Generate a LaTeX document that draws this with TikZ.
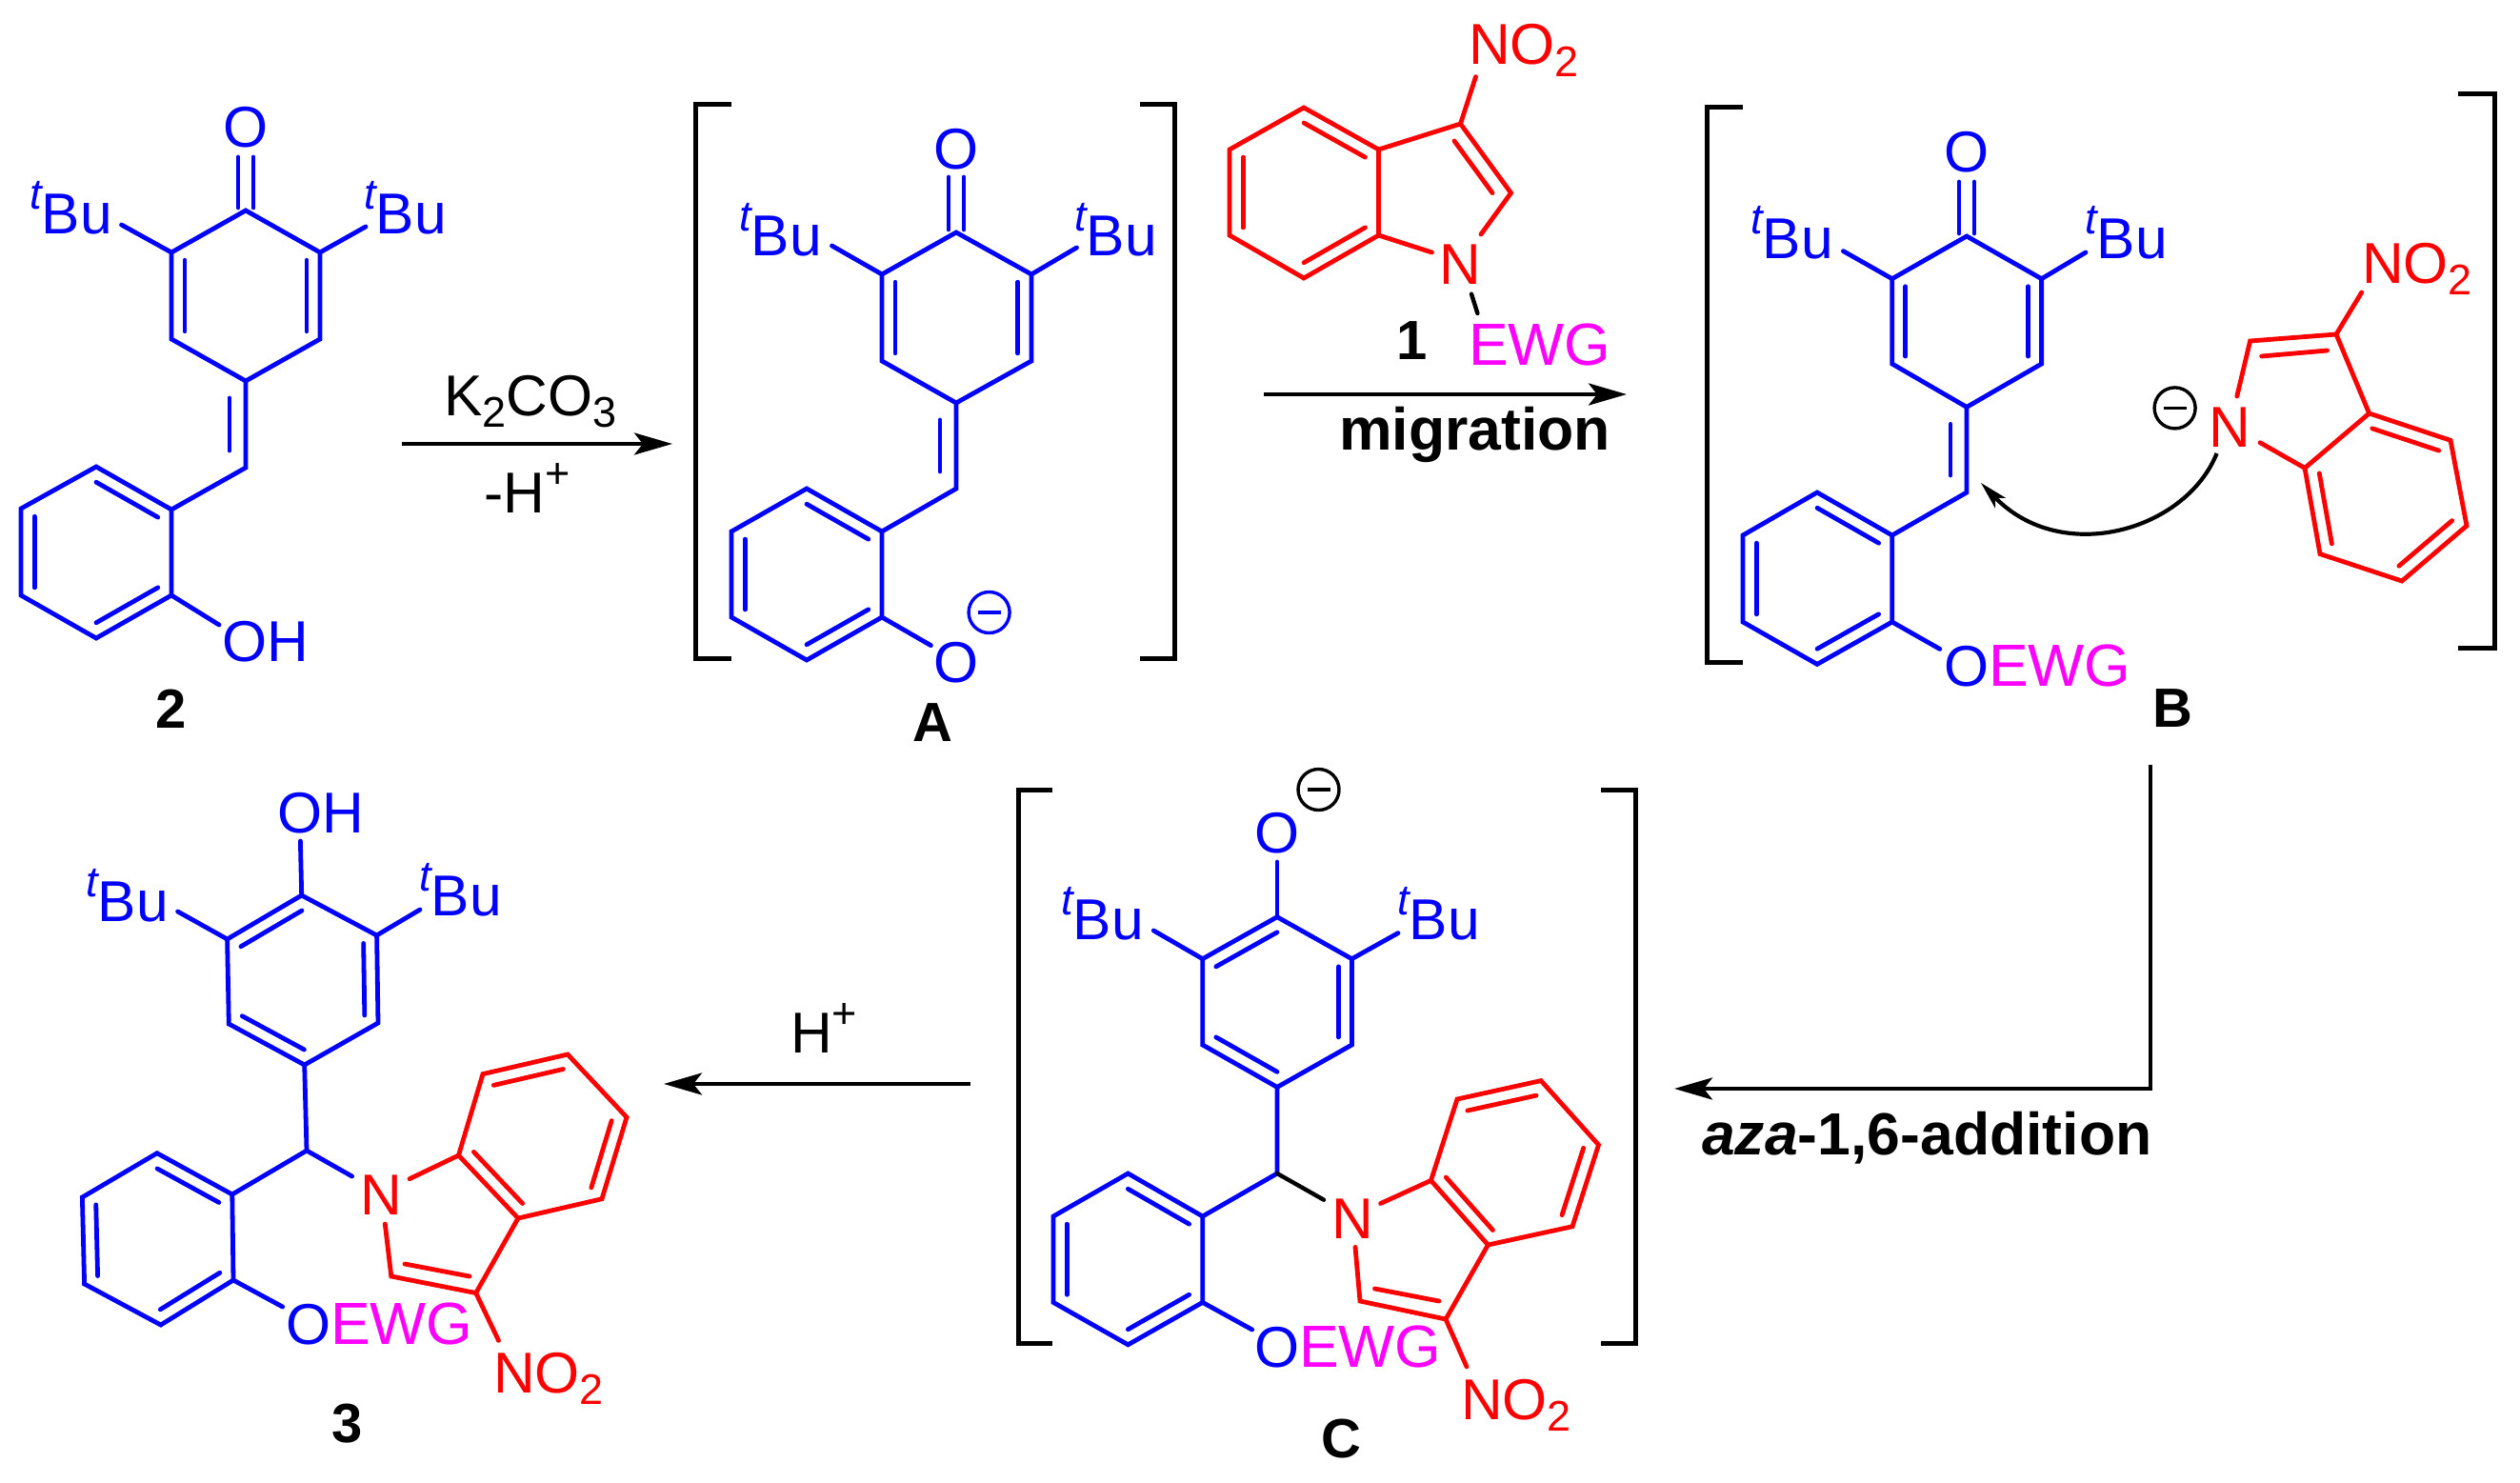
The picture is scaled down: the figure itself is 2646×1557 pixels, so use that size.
\documentclass[tikz,border=0pt]{standalone}
\usepackage{fontspec}
\setmainfont{Liberation Sans}
\usetikzlibrary{calc,arrows.meta}
\definecolor{ewgpink}{RGB}{255,0,255}
\definecolor{atomblue}{RGB}{0,0,255}
\definecolor{atomred}{RGB}{255,0,0}
\tikzset{
  bond/.style={line width=4.8pt,line cap=round,atomblue},
  rbond/.style={line width=4.8pt,line cap=round,atomred},
  kbond/.style={line width=4.4pt,line cap=round,black},
  bracket/.style={line width=5pt,black},
  rxn/.style={line width=4.4pt,-{Stealth[length=40pt,width=23pt,inset=9pt]}},
  curly/.style={line width=4.2pt,-{Stealth[length=29pt,width=15pt,inset=7pt]}},
  lab/.style={font=\fontsize{60.5}{60.5}\selectfont,inner sep=0pt,anchor=base west},
  atom/.style={lab,anchor=base},
  num/.style={font=\fontsize{58}{58}\selectfont\bfseries,inner sep=0pt,anchor=base},
  cond/.style={lab,font=\fontsize{62.5}{62.5}\selectfont\bfseries},
  chg/.style={circle,draw,line width=3.4pt,minimum size=43pt,inner sep=0pt,
    path picture={\draw[line width=3.4pt] ([xshift=-12pt]path picture bounding box.center) -- ([xshift=12pt]path picture bounding box.center);}}
}
\newcommand{\atoms}[2]{\foreach \n/\x/\y in {#2}{\coordinate (#1\n) at (\x,\y);}}
\newcommand{\inbond}[4][bond]{\draw[#1] ($(#2)!.18!(#4)$) -- ($(#3)!.18!(#4)$);}
\newcommand{\tBu}{\raisebox{.42em}{\fontsize{45}{45}\selectfont\itshape t}Bu}
\newcommand{\lowdg}[1]{\raisebox{-.2em}{\fontsize{45}{45}\selectfont #1}}
\newcommand{\updg}[1]{\raisebox{.42em}{\fontsize{45}{45}\selectfont #1}}
\newcommand{\nitro}{NO\lowdg{2}}
\newcommand{\ewg}{\textcolor{ewgpink}{\fontsize{62.5}{62.5}\selectfont EWG}}
% salicyl ring, all five structures
\newcommand{\aryl}[1]{
  \coordinate (#1ca) at ($(#1a1)!.5!(#1a4)$);
  \draw[bond] (#1a1) -- (#1a2) -- (#1a3) -- (#1a4) -- (#1a5) -- (#1a6) -- cycle;
  \inbond{#1a1}{#1a2}{#1ca} \inbond{#1a3}{#1a4}{#1ca} \inbond{#1a5}{#1a6}{#1ca}
  \draw[bond] (#1a6) -- (#1oa);
}
% quinone methide: 2, A, B
\newcommand{\quinone}[1]{
  \coordinate (#1cq) at ($(#1c1)!.5!(#1c4)$);
  \draw[bond] (#1c1) -- (#1c2) -- (#1c3) -- (#1c4) -- (#1c5) -- (#1c6) -- cycle;
  \inbond{#1c2}{#1c3}{#1cq} \inbond{#1c5}{#1c6}{#1cq}
  \draw[bond] ([xshift=-8pt,yshift=3pt]#1c1) -- ([xshift=-8pt]#1ot);
  \draw[bond] ([xshift=8pt,yshift=3pt]#1c1) -- ([xshift=8pt]#1ot);
  \draw[bond] (#1c2) -- (#1tr);
  \draw[bond] (#1c6) -- (#1tl);
  \draw[bond] (#1c4) -- (#1c7) -- (#1a1);
  \draw[bond] ([xshift=-17pt,yshift=-18pt]#1c4) -- ([xshift=-17pt,yshift=18pt]#1c7);
  \aryl{#1}
}
% phenol part: 3, C
\newcommand{\phenol}[1]{
  \coordinate (#1cp) at ($(#1p1)!.5!(#1p4)$);
  \draw[bond] (#1p1) -- (#1p2) -- (#1p3) -- (#1p4) -- (#1p5) -- (#1p6) -- cycle;
  \inbond{#1p1}{#1p6}{#1cp} \inbond{#1p2}{#1p3}{#1cp} \inbond{#1p4}{#1p5}{#1cp}
  \draw[bond] (#1p1) -- (#1ot);
  \draw[bond] (#1p2) -- (#1tr);
  \draw[bond] (#1p6) -- (#1tl);
  \draw[bond] (#1p4) -- (#1ch) -- (#1a1);
  \aryl{#1}
}
% 3-nitroindole, second argument lists the inner benzene bonds
\newcommand{\indole}[2]{
  \coordinate (#1cb) at ($(#1b1)!.5!(#1b4)$);
  \draw[rbond] (#1b1) -- (#1b2) -- (#1b3) -- (#1b4) -- (#1b5) -- (#1b6) -- cycle;
  \foreach \a/\b in {#2}{\inbond[rbond]{#1\a}{#1\b}{#1cb}}
  \draw[rbond] (#1ne) -- (#1k2) -- (#1k3) -- (#1b1);
  \draw[rbond] (#1k3) -- (#1nt);
  \draw[rbond] (#1ns) -- (#1b6);
  \draw[rbond] (#1i1) -- (#1i2);
}
\begin{document}
\begin{tikzpicture}[x=1pt,y=-1pt]
\useasboundingbox (0,0) rectangle (2646,1557);
% compound 2
\atoms{mT}{c1/258/221,c2/336/265,c3/336/356,c4/258/400,c5/180/356,c6/180/265,c7/258/491,
  a1/180/535,a2/101/490,a3/22/534,a4/22/625,a5/101/670,a6/180/625,
  ot/258/165,tl/127.5/236,tr/384/238,oa/230/656}
\quinone{mT}
\node[atom,text=atomblue] (mTo) at (258,154.5) {O};
\node[lab,text=atomblue] (mTtl) at (31,245) {\tBu};
\node[lab,text=atomblue] (mTtr) at (382,245) {\tBu};
\node[lab,text=atomblue] (mToh) at (233,694) {OH};
\node[num] (mTn) at (180,764) {2};
% K2CO3 arrow
\coordinate (ar1s) at (422,466); \coordinate (ar1e) at (706,466);
\draw[rxn] (ar1s) -- (ar1e);
\node[lab] (ar1t) at (466,436) {K\lowdg{2}CO\lowdg{3}};
\node[lab] (ar1b) at (508,538) {-H\updg{+}};
% intermediate A
\atoms{mA}{c1/1004/244,c2/1083/288,c3/1083/379,c4/1004/423,c5/926/379,c6/926/288,c7/1004/513,
  a1/926/558,a2/847/513,a3/768/558,a4/768/648,a5/847/693,a6/926/648,
  ot/1004/186,tl/873.5/258,tr/1130.5/260,oa/977.4/677.6,
  bl1/768/110,bl2/730/110,bl3/730/691,bl4/768/691,br1/1197/110,br2/1233/110,br3/1233/691,br4/1197/691}
\quinone{mA}
\draw[bracket] (mAbl1) -- (mAbl2) -- (mAbl3) -- (mAbl4);
\draw[bracket] (mAbr1) -- (mAbr2) -- (mAbr3) -- (mAbr4);
\node[atom,text=atomblue] (mAo) at (1003.6,177.6) {O};
\node[atom,text=atomblue] (mAob) at (1003.6,716) {O};
\node[chg,atomblue] (mAq) at (1038.6,643) {};
\node[lab,text=atomblue] (mAtl) at (776,268) {\tBu};
\node[lab,text=atomblue] (mAtr) at (1128,268) {\tBu};
\node[num] (mAn) at (979,778) {A};
% reagent 1
\atoms{mO}{b1/1447.5/157,b2/1369/113,b3/1291/157,b4/1291/247,b5/1369/292,b6/1447.5/247,
  k3/1533.5/130,k2/1586.5/202.6,ne/1555/246,ns/1503.5/265,nt/1549.5/80.6,
  i1/1527/148,i2/1567/202.6,ew1/1545/308.7,ew2/1551.4/329}
\indole{mO}{b1/b2,b3/b4,b5/b6}
\draw[kbond] (mOew1) -- (mOew2);
\node[atom,text=atomred] (mOn) at (1533.5,298.5) {N};
\node[lab,text=atomred] (mOno) at (1542,68) {\nitro};
\node[lab] (mOew) at (1542,383.7) {\ewg};
\node[num] (mOk) at (1483,377.5) {1};
% migration arrow
\coordinate (ar2s) at (1327,414); \coordinate (ar2e) at (1708,414);
\draw[rxn] (ar2s) -- (ar2e);
\node[cond] (ar2b) at (1406,472) {migration};
% intermediate B
\atoms{mB}{c1/2065/248,c2/2143.6/292.7,c3/2143.6/382,c4/2065/427.4,c5/1986.7/382,c6/1986.7/292.7,c7/2065/517,
  a1/1986.7/562,a2/1908/517,a3/1830/562,a4/1830/653,a5/1908/697.4,a6/1986.7/653,
  ot/2065/191,tl/1935.4/263.6,tr/2190/265,oa/2036.8/681.4,
  bl1/1829.8/113,bl2/1792.3/113,bl3/1792.3/695.5,bl4/1829.8/695.5,br1/2581/98.8,br2/2619/98.8,br3/2619/680.5,br4/2581/680.5,
  b1/2487.6/434,b2/2573/462.3,b3/2590/552,b4/2522/610,b5/2436/581.6,b6/2420/491.4,
  k3/2453/351,k2/2362.6/358,ne/2348.8/416,ns/2373/464.7,nt/2479.7/307,
  i1/2374.7/374,i2/2443.5/368,cs/2327.6/476,ce/2080/507,cu1/2295/557,cu2/2165/595}
\quinone{mB}
\indole{mB}{b1/b2,b3/b4,b5/b6}
\draw[bracket] (mBbl1) -- (mBbl2) -- (mBbl3) -- (mBbl4);
\draw[bracket] (mBbr1) -- (mBbr2) -- (mBbr3) -- (mBbr4);
\draw[curly] (mBcs) .. controls (mBcu1) and (mBcu2) .. (mBce);
\node[atom,text=atomblue] (mBo) at (2064.5,181) {O};
\node[lab,text=atomblue] (mBoe) at (2041,720.7) {O\ewg};
\node[atom,text=atomred] (mBnn) at (2341.5,469.6) {N};
\node[lab,text=atomred] (mBno) at (2480,297.5) {\nitro};
\node[chg,black] (mBq) at (2283.6,428.4) {};
\node[lab,text=atomblue] (mBtl) at (1838,271) {\tBu};
\node[lab,text=atomblue] (mBtr) at (2189,271) {\tBu};
\node[num] (mBn) at (2281,763) {B};
% aza-addition arrow
\coordinate (ar3s) at (2258,803); \coordinate (ar3e) at (1758,1143);
\draw[rxn] (ar3s) |- (ar3e);
\node[cond] (ar3b) at (1787,1212) {\textit{aza}-1,6-addition};
% intermediate C
\atoms{mC}{p1/1341/962.7,p2/1419.4/1006.7,p3/1419.4/1097,p4/1341/1141.4,p5/1262.7/1097,p6/1262.7/1006.7,ch/1341/1232,
  a1/1262.7/1277,a2/1184.4/1232,a3/1106/1277,a4/1106/1367.4,a5/1184.4/1411.8,a6/1262.7/1367.4,
  ot/1341/905,tl/1211.3/977,tr/1468/979.6,oa/1314.7/1396,ce/1390/1259.7,
  bl1/1105/829,bl2/1069/829,bl3/1069/1410,bl4/1105/1410,br1/1681/829,br2/1717.7/829,br3/1717.7/1410,br4/1681/1410,
  b1/1562.4/1307,b2/1651/1287.7,b3/1678.5/1202,b4/1618/1134.6,b5/1530/1154,b6/1502.5/1239.4,
  k3/1518/1385,k2/1428/1366,ne/1423/1309.4,ns/1449.6/1263.5,nt/1540/1435,
  i1/1443.5/1353,i2/1511/1366}
\phenol{mC}
\indole{mC}{b1/b6,b2/b3,b4/b5}
\draw[kbond] (mCch) -- (mCce);
\draw[bracket] (mCbl1) -- (mCbl2) -- (mCbl3) -- (mCbl4);
\draw[bracket] (mCbr1) -- (mCbr2) -- (mCbr3) -- (mCbr4);
\node[atom,text=atomblue] (mCo) at (1341,895.6) {O};
\node[chg,black] (mCq) at (1384.5,829) {};
\node[lab,text=atomblue] (mCtl) at (1114,986) {\tBu};
\node[lab,text=atomblue] (mCtr) at (1467,986) {\tBu};
\node[lab,text=atomblue] (mCoe) at (1317,1435) {O\ewg};
\node[atom,text=atomred] (mCnn) at (1420,1300.7) {N};
\node[lab,text=atomred] (mCno) at (1534,1490.5) {\nitro};
\node[num] (mCn) at (1408,1530) {C};
% H+ arrow
\coordinate (ar4s) at (1019,1138); \coordinate (ar4e) at (697,1138);
\draw[rxn] (ar4s) -- (ar4e);
\node[lab] (ar4t) at (830,1105) {H\updg{+}};
% product 3
\atoms{mP}{p1/316.7/940,p2/395.6/982,p3/397/1074,p4/319.7/1118,p5/240.3/1075,p6/238.6/986,ch/322/1208,
  a1/243.8/1254,a2/164.9/1210.7,a3/86.4/1257,a4/88.6/1348,a5/168.8/1391,a6/245/1344,
  ot/315.4/883,tl/186.6/957,tr/441/955,oa/296.7/1372,ce/369.6/1235,
  b1/544/1279,b2/632/1258.7,b3/658/1173,b4/596/1107,b5/507/1127.6,b6/481.5/1213,
  k3/499.7/1357.5,k2/410.8/1340,ne/404.3/1285,ns/430/1237.7,nt/523.5/1407.4,
  i1/425/1327,i2/493/1340}
\phenol{mP}
\indole{mP}{b1/b6,b2/b3,b4/b5}
\draw[bond] (mPch) -- (mPce);
\node[lab,text=atomblue] (mPoh) at (291,874) {OH};
\node[lab,text=atomblue] (mPtl) at (90,967) {\tBu};
\node[lab,text=atomblue] (mPtr) at (440,961) {\tBu};
\node[lab,text=atomblue] (mPoe) at (300,1411.3) {O\ewg};
\node[atom,text=atomred] (mPnn) at (400,1275.8) {N};
\node[lab,text=atomred] (mPno) at (518,1462.7) {\nitro};
\node[num] (mPn) at (364.4,1514) {3};
\end{tikzpicture}
\end{document}
